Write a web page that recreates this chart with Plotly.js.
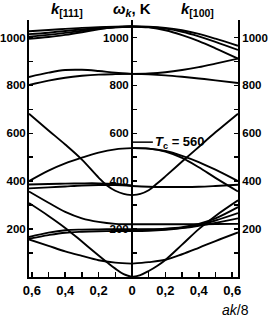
<!DOCTYPE html>
<html>
<head>
<meta charset="utf-8">
<script src="https://cdn.plot.ly/plotly-3.0.1.min.js"></script>
<style>html,body{margin:0;padding:0;background:#fff}#chart{width:268px;height:318px}</style>
</head>
<body>
<div id="chart"></div>
<script>
// wave-vector grids (k[111] on the left, k[100] on the right)
const qL  = [0, 0.1, 0.2, 0.3, 0.4, 0.5, 0.617];
const qR  = [0, 0.1, 0.2, 0.3, 0.4, 0.5, 0.635];
const qLf = [0, 0.05, 0.1, 0.15, 0.2, 0.3, 0.4, 0.5, 0.617];
const qRf = [0, 0.05, 0.1, 0.15, 0.2, 0.3, 0.4, 0.5, 0.635];

// left branches, k[111] (on qL unless noted)
const L_top1 = [1046, 1045, 1043, 1040, 1036, 1031, 1026];
const L_top2 = [1046, 1044, 1040, 1034, 1027, 1020, 1014];
const L_top3 = [1046, 1043, 1037, 1028, 1019, 1011, 1003];
const L_top4 = [1046, 1042, 1034, 1022, 1011, 1002, 995];
const L_midA = [848, 853, 860, 865, 864, 853, 835];
const L_midB = [848, 847, 845, 840, 832, 820, 802];
const L_line = [342, 347, 360, 382, 415, 490, 553, 612, 682];   // qLf
const L_C    = [538, 533, 519, 498, 474, 444, 400];
const L_E1   = [382, 388, 391, 391, 390, 388, 386];
const L_E2   = [380, 384, 384, 382, 378, 374, 370];
const L_D    = [220, 222, 230, 245, 272, 310, 357];
const L_ac   = [0, 12, 35, 62, 90, 148, 205, 255, 309];          // qLf
const L_F    = [56, 60, 70, 88, 107, 130, 157];
const L_G1   = [200, 200, 199, 198, 195, 185, 167];
const L_G2   = [192, 192, 191, 189, 185, 175, 160];

// right branches, k[100] (on qR unless noted)
const R_top1 = [1046, 1045, 1040, 1030, 1015, 995, 965];
const R_top2 = [1046, 1044, 1037, 1024, 1005, 982, 948];
const R_top3 = [1046, 1042, 1030, 1010, 985, 955, 912];
const R_midA = [848, 850, 855, 864, 876, 891, 912];
const R_midB = [848, 846, 842, 836, 829, 821, 810];
const R_line = [342, 347, 362, 390, 420, 482, 543, 604, 682];   // qRf
const R_C    = [538, 536, 526, 506, 480, 448, 400];
const R_C2   = [538, 536, 524, 497, 458, 414, 357];
const R_E1   = [380, 377, 376, 376, 377, 380, 385];
const R_ac   = [0, 8, 25, 46, 71, 135, 200, 255, 320];           // qRf
const R_F    = [56, 62, 72, 95, 122, 150, 186];
const R_H1   = [220, 220, 220, 220, 220, 221, 222];
const R_H2   = [192, 193, 197, 204, 214, 226, 245];
const R_G1   = [200, 200, 202, 208, 222, 245, 292];
const R_G2   = [196, 197, 199, 205, 217, 236, 267];

const yTicks = [200, 400, 600, 800, 1000];
const yTickText = ["200", "400", "600", "800", "1000"];
const yMinor = [100, 300, 500, 700, 900];
const xTicks = [-0.6, -0.4, -0.2, 0, 0.2, 0.4, 0.6];
const xTickText = ["0,6", "0,4", "0,2", "0", "0,2", "0,4", "0,6"];
const xMinor = [-0.5, -0.3, -0.1, 0.1, 0.3, 0.5];

const FONT = "'Liberation Sans', Arial, sans-serif";
const LW = 1.9;

const leftSets = [
  [qL, L_top1], [qL, L_top2], [qL, L_top3], [qL, L_top4],
  [qL, L_midA], [qL, L_midB], [qLf, L_line], [qL, L_C],
  [qL, L_E1], [qL, L_E2], [qL, L_D], [qLf, L_ac], [qL, L_F],
  [qL, L_G1], [qL, L_G2]
];
const rightSets = [
  [qR, R_top1], [qR, R_top2], [qR, R_top3], [qR, R_midA], [qR, R_midB],
  [qRf, R_line], [qR, R_C], [qR, R_C2], [qR, R_E1], [qRf, R_ac], [qR, R_F],
  [qR, R_H1], [qR, R_H2], [qR, R_G1], [qR, R_G2]
];

const traces = [];
leftSets.forEach(([q, w]) => traces.push({
  x: q.map(v => -v), y: w, mode: 'lines', type: 'scatter',
  line: {color: '#000', width: LW, shape: 'spline', smoothing: 1},
  hoverinfo: 'skip', showlegend: false
}));
rightSets.forEach(([q, w]) => traces.push({
  x: q, y: w, mode: 'lines', type: 'scatter',
  line: {color: '#000', width: LW, shape: 'spline', smoothing: 1},
  hoverinfo: 'skip', showlegend: false
}));
// anchor traces so the extra y axes are drawn
traces.push({x: [0], y: [0], yaxis: 'y2', mode: 'markers', marker: {opacity: 0}, hoverinfo: 'skip', showlegend: false});
traces.push({x: [0], y: [0], yaxis: 'y3', mode: 'markers', marker: {opacity: 0}, hoverinfo: 'skip', showlegend: false});

const xMin = -0.617, xMax = 0.635, yMax = 1073;
const centerPos = (0 - xMin) / (xMax - xMin);

const tickFont = {family: FONT, size: 11.5, color: '#000', weight: 'bold'};
const yCommon = {
  range: [0, yMax], tickmode: 'array', tickvals: yTicks, ticktext: yTickText,
  ticks: 'inside', ticklen: 4, tickwidth: 1.5, tickcolor: '#000',
  minor: {tickmode: 'array', tickvals: yMinor, ticks: 'inside', ticklen: 4, tickwidth: 1.5, tickcolor: '#000', showgrid: false},
  showline: true, linecolor: '#000', linewidth: 2,
  showgrid: false, zeroline: false, tickfont: tickFont, fixedrange: true
};

const layout = {
  width: 268, height: 318,
  margin: {l: 29, r: 30, t: 20, b: 41, pad: 0},
  paper_bgcolor: '#fff', plot_bgcolor: '#fff',
  showlegend: false,
  xaxis: {
    range: [xMin, xMax], tickmode: 'array', tickvals: xTicks, ticktext: xTickText,
    ticks: 'inside', ticklen: 5, tickwidth: 1.5, tickcolor: '#000',
    minor: {tickmode: 'array', tickvals: xMinor, ticks: 'inside', ticklen: 5, tickwidth: 1.5, tickcolor: '#000', showgrid: false},
    showline: true, linecolor: '#000', linewidth: 2,
    showgrid: false, zeroline: false, tickfont: {family: FONT, size: 13, color: '#000', weight: 'bold'}, fixedrange: true
  },
  yaxis: Object.assign({}, yCommon, {side: 'left', ticklabelstandoff: -1}),
  yaxis2: Object.assign({}, yCommon, {side: 'right', overlaying: 'y'}),
  yaxis3: Object.assign({}, yCommon, {side: 'left', overlaying: 'y', anchor: 'free', position: centerPos}),
  shapes: [
    {type: 'line', xref: 'x', yref: 'y', x0: 0, x1: 0.125, y0: 563, y1: 563,
     line: {color: '#000', width: 1.5}}
  ],
  annotations: [
    {xref: 'x', yref: 'paper', x: -0.39, y: 1.04, text: '<i>k</i><sub>[111]</sub>', showarrow: false,
     font: {family: FONT, size: 15, color: '#000', weight: 'bold'}, xanchor: 'center', yanchor: 'middle'},
    {xref: 'x', yref: 'paper', x: 0, y: 1.04, text: '<i>ω</i><sub><i>k</i></sub>, K', showarrow: false,
     font: {family: FONT, size: 15, color: '#000', weight: 'bold'}, xanchor: 'center', yanchor: 'middle'},
    {xref: 'x', yref: 'paper', x: 0.39, y: 1.04, text: '<i>k</i><sub>[100]</sub>', showarrow: false,
     font: {family: FONT, size: 15, color: '#000', weight: 'bold'}, xanchor: 'center', yanchor: 'middle'},
    {xref: 'x', yref: 'y', x: 0.128, y: 563, text: '<i>T</i><sub>c</sub> = 560', showarrow: false,
     font: {family: FONT, size: 13, color: '#000', weight: 'bold'}, xanchor: 'left', yanchor: 'middle'},
    {xref: 'paper', yref: 'paper', x: 0.99, y: -0.13, text: '<i>ak</i>/8', showarrow: false,
     font: {family: FONT, size: 14, color: '#000'}, xanchor: 'center', yanchor: 'middle'}
  ]
};

Plotly.newPlot('chart', traces, layout, {staticPlot: true, displayModeBar: false});
</script>
</body>
</html>
